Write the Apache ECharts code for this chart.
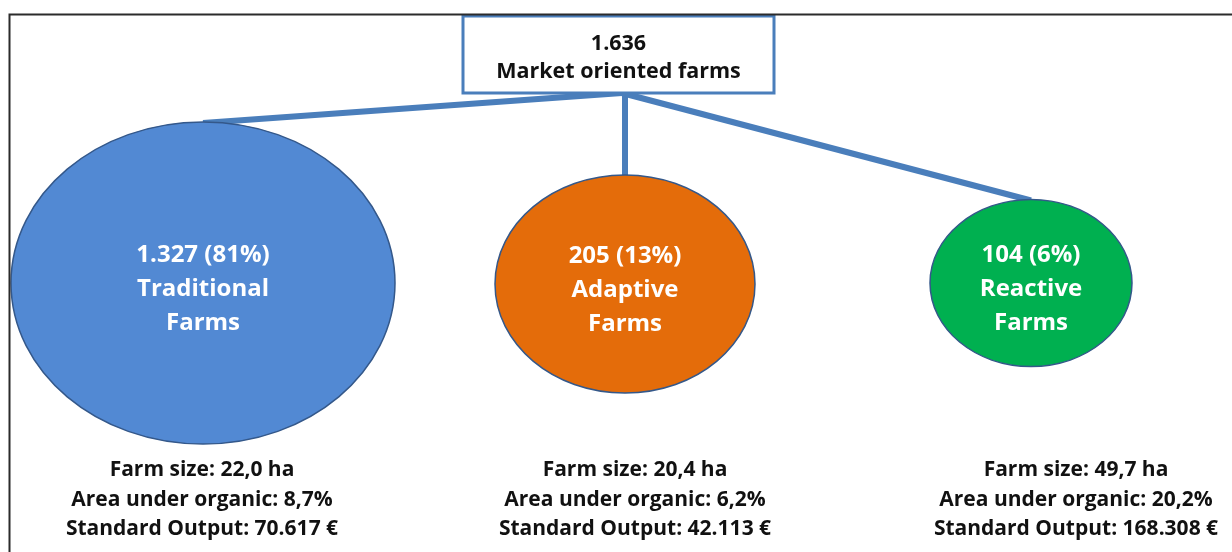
<!DOCTYPE html>
<html>
<head>
<meta charset="utf-8">
<script src="https://cdn.jsdelivr.net/npm/echarts@6/dist/echarts.min.js"></script>
<style>
  html, body { margin: 0; padding: 0; background: #fff; }
  #chart { width: 1232px; height: 552px; }
</style>
</head>
<body>
<div id="chart"></div>
<script>
// data
const totalFarms = 1636
const groupNames = ['Traditional', 'Adaptive', 'Reactive']
const farmCounts = [1327, 205, 104]
const farmShares = [81, 13, 6]
const farmSizeHa = [22.0, 20.4, 49.7]
const organicShare = [8.7, 6.2, 20.2]
const standardOutput = [70617, 42113, 168308]

// layout (pixels)
const ellipses = [
  { cx: 203, cy: 283, w: 384, h: 322, color: '#5289d3' },
  { cx: 625, cy: 284, w: 260, h: 218, color: '#e46c0a' },
  { cx: 1031, cy: 283, w: 202, h: 167, color: '#00b050' }
]
const infoPos = [[202, 500], [635, 500], [1076, 500]]
const box = { cx: 618.5, cy: 54.5, w: 311, h: 77 }
const lineColor = '#4a7ebb'
const font = 'Open Sans'

const fmtInt = n => String(n).replace(/\B(?=(\d{3})+(?!\d))/g, '.')
const fmtDec = v => v.toFixed(1).replace('.', ',')

const chart = echarts.init(document.getElementById('chart'))

const junction = [622, box.cy + box.h / 2]
const linkData = ellipses.map((e, i) => ({
  coords: i === 1
    ? [[e.cx, junction[1]], [e.cx, e.cy - e.h / 2 + 2]]
    : [junction, [e.cx, e.cy - e.h / 2 + 1]]
}))

const option = {
  animation: false,
  grid: { left: 0, right: 0, top: 0, bottom: 0 },
  xAxis: { type: 'value', min: 0, max: 1232, show: false },
  yAxis: { type: 'value', min: 0, max: 552, inverse: true, show: false },
  graphic: [{
    type: 'polyline',
    shape: { points: [[9.5, 560], [9.5, 14.5], [1240, 14.5]] },
    style: { stroke: '#2b2b2b', lineWidth: 2, fill: null },
    z: 10
  }],
  series: [
    {
      type: 'lines',
      coordinateSystem: 'cartesian2d',
      z: 1,
      lineStyle: { color: lineColor, width: 6, opacity: 1 },
      data: linkData
    },
    {
      // top box
      type: 'custom',
      z: 3,
      data: [[box.cx, box.cy]],
      renderItem: (params, api) => {
        const c = api.coord([api.value(0), api.value(1)])
        return {
          type: 'rect',
          shape: { x: c[0] - box.w / 2, y: c[1] - box.h / 2, width: box.w, height: box.h },
          style: { fill: '#fff', stroke: lineColor, lineWidth: 3 },
          textContent: {
            style: {
              text: fmtInt(totalFarms) + '\nMarket oriented farms',
              fill: '#111',
              fontFamily: font,
              fontWeight: 'bold',
              fontSize: 21.5,
              lineHeight: 28,
              align: 'center',
              verticalAlign: 'middle'
            }
          },
          textConfig: { position: 'inside', offset: [0, 3] }
        }
      }
    },
    {
      // group ellipses
      type: 'custom',
      z: 4,
      data: ellipses.map(e => [e.cx, e.cy]),
      renderItem: (params, api) => {
        const i = params.dataIndex
        const e = ellipses[i]
        const c = api.coord([api.value(0), api.value(1)])
        return {
          type: 'ellipse',
          shape: { cx: c[0], cy: c[1], rx: e.w / 2, ry: e.h / 2 },
          style: { fill: e.color, stroke: '#34588a', lineWidth: 1.5 },
          textContent: {
            style: {
              text: fmtInt(farmCounts[i]) + ' (' + farmShares[i] + '%)\n' + groupNames[i] + '\nFarms',
              fill: '#fff',
              fontFamily: font,
              fontWeight: 'bold',
              fontSize: 24,
              lineHeight: 34,
              align: 'center',
              verticalAlign: 'middle'
            }
          },
          textConfig: { position: 'inside', offset: [0, 6] }
        }
      }
    },
    {
      type: 'scatter',
      z: 4,
      symbolSize: 0,
      itemStyle: { opacity: 1 },
      data: infoPos.map(p => ({ value: p })),
      label: {
        show: true,
        position: 'inside',
        color: '#111',
        fontFamily: font,
        fontWeight: 'bold',
        fontSize: 21,
        lineHeight: 29.5,
        formatter: p => {
          const i = p.dataIndex
          return 'Farm size: ' + fmtDec(farmSizeHa[i]) + ' ha\n' +
            'Area under organic: ' + fmtDec(organicShare[i]) + '%\n' +
            'Standard Output: ' + fmtInt(standardOutput[i]) + ' €'
        }
      }
    }
  ]
}

chart.setOption(option)
</script>
</body>
</html>
